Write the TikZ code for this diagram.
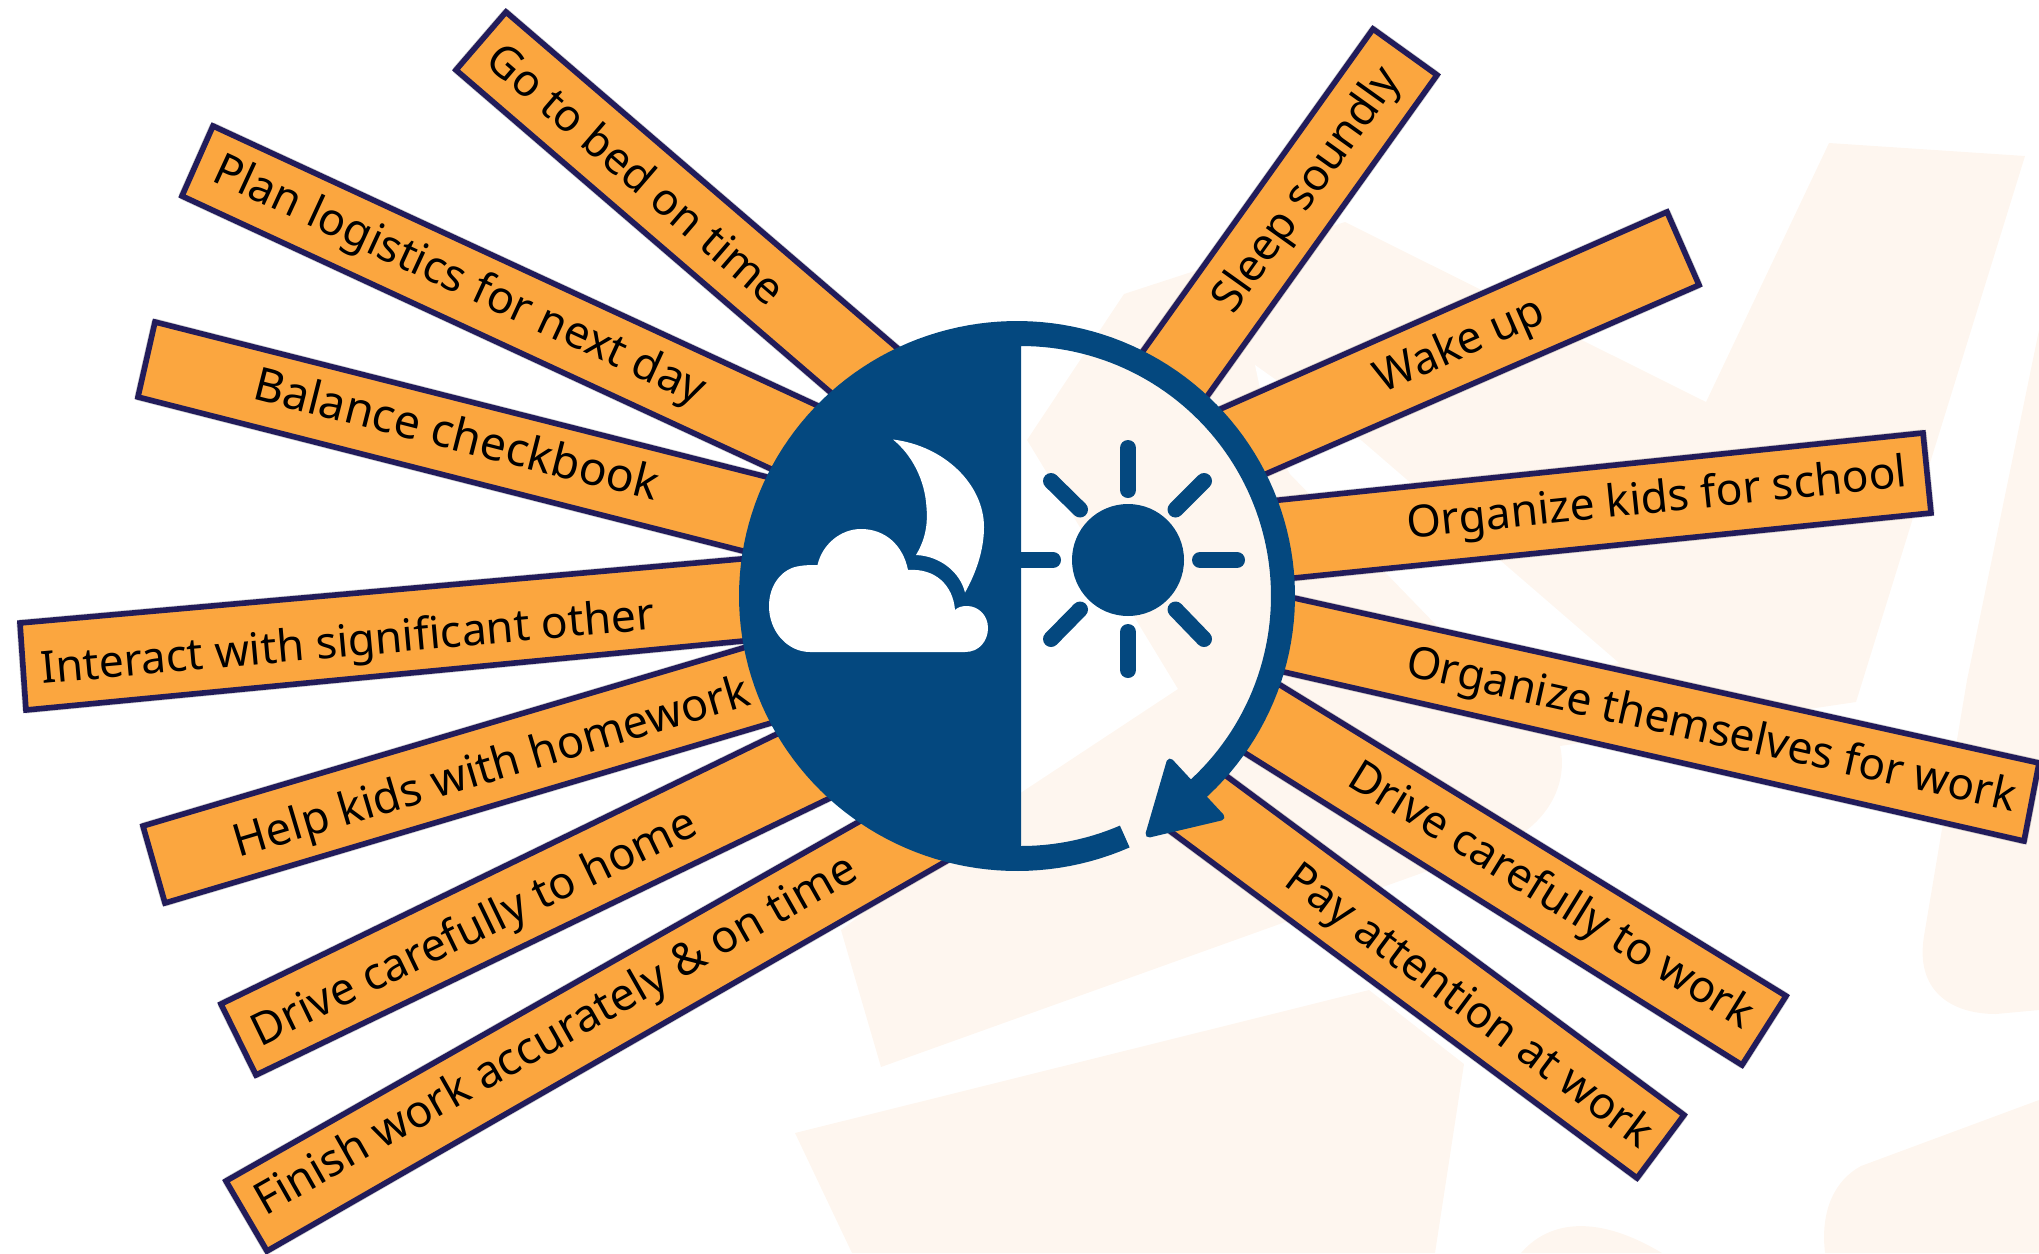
\documentclass[tikz,border=0pt]{standalone}
\usepackage{fontspec}
\setmainfont{Noto Sans}
\usetikzlibrary{calc}
\definecolor{barfill}{HTML}{FBA63F}
\definecolor{barline}{HTML}{221C5A}
\definecolor{iconblue}{HTML}{04487F}
\definecolor{wm}{HTML}{FEF6EF}
\tikzset{
  spokebar/.style={fill=barfill,draw=barline,line width=5.6pt,line join=miter},
  spokeshadow/.style={draw=black,fill=black,opacity=.18,line width=7pt,line join=round},
  spoketext/.style={inner sep=0pt,text=black,font=\fontsize{44.3}{44.3}\selectfont},
  wmark/.style={fill=wm,draw=none},
  ray/.style={draw=iconblue,line width=16pt,line cap=round},
}
\newcommand{\spoke}[9]{%
  \coordinate (#1a) at (#2);
  \coordinate (#1b) at (#3);
  \coordinate (#1c) at (#4);
  \coordinate (#1d) at (#5);
  \fill[spokeshadow,shift={(2pt,-3pt)}] (#1a) -- (#1b) -- ($(#1c)!-14pt!(#1b)$) -- ($(#1d)!-14pt!(#1a)$) -- cycle;
  \draw[spokebar] (#1a) -- (#1b) -- ($(#1c)!-14pt!(#1b)$) -- ($(#1d)!-14pt!(#1a)$) -- cycle;
  \node[spoketext,rotate=#7] (#1) at (#6) {#8#9};
}
\begin{document}
\begin{tikzpicture}[x=1pt,y=-1pt]
\useasboundingbox (0,0) rectangle (2039,1253);
% pale watermark
\fill[wmark] (1124,294) -- (1345,222) -- (1706,402) -- (1829,143) -- (2025,156) -- (1856,702)
  -- (1560,746) .. controls (1570,790) and (1540,830) .. (1500,845) -- (881,1067) -- (841,930) -- (1022,792) -- (1178,689) -- (1027,440) -- cycle;
\fill[white] (1255,365) -- (1362,441) -- (1619,663) -- (1480,690) -- (1445,634) -- (1290,474) -- (1271,440) -- cycle;
\fill[wmark] (2039,330) -- (1967,680) -- (1924,936) .. controls (1915,990) and (1950,1014) .. (1996,1014) -- (2039,1010) -- cycle;
\fill[wmark] (795,1133) -- (1369,990) -- (1464,1064) -- (1435,1253) -- (852,1253) -- cycle;
\fill[wmark] (1521,1253) .. controls (1545,1225) and (1590,1210) .. (1662,1253) -- cycle;
\fill[wmark] (1825,1253) .. controls (1820,1210) and (1835,1180) .. (1861,1166) -- (2039,1100) -- (2039,1253) -- cycle;
% bars
\spoke{bed}{506,12}{456,70}{829,391}{896,347}{637,173}{-40.7}{}{Go to bed on time}
\spoke{plan}{213,126}{182,196}{769,468}{816,405}{459,282}{-24.8}{\fontsize{44.8}{45}\selectfont}{Plan logistics for next day}
\spoke{bal}{155,322}{138,397}{743,551}{763,476}{457,433}{-14.2}{\fontsize{46.3}{46}\selectfont}{Balance checkbook}
\spoke{inter}{20,623}{26,710}{743,641}{741,559}{348,645}{5.1}{}{Interact with significant other}
\spoke{help}{143,826}{165,903}{771,723}{743,648}{492,770}{16.6}{\fontsize{45}{45}\selectfont}{Help kids with homework}
\spoke{dhome}{221,1004}{256,1075}{826,800}{775,735}{475,930}{25.9}{\fontsize{44.7}{45}\selectfont}{Drive carefully to home}
\spoke{fin}{226,1181}{267,1251}{943,863}{855,824}{557,1037}{29.6}{\fontsize{44.9}{45}\selectfont}{Finish work accurately \& on time}
\spoke{sleep}{1373,29}{1437,75}{1208,395}{1143,351}{1308,191}{54.5}{}{Sleep soundly}
\spoke{wake}{1667,212}{1699,285}{1268,473}{1225,407}{1460,347}{23.8}{}{Wake up}
\spoke{okids}{1923,433}{1931,513}{1294,578}{1280,500}{1657,501}{5.9}{}{Organize kids for school}
\spoke{othem}{2039,763}{2024,841}{1284,672}{1294,598}{1711,732}{-12.6}{}{Organize themselves for work}
\spoke{dwork}{1786,996}{1742,1065}{1245,753}{1280,685}{1550,897}{-31.7}{}{Drive carefully to work}
\spoke{pay}{1684,1115}{1637,1178}{1174,834}{1229,778}{1468,1008}{-36.6}{}{Pay attention at work}
% day-night disc
\fill[iconblue]
  plot[domain=66.1:408.5,samples=160] ({1017+278*cos(\x)},{596+275*sin(\x)})
  -- plot[domain=48.6:-90,samples=80] ({1021+250*cos(\x)},{596+250*sin(\x)})
  -- plot[domain=90:66.7,samples=20] ({1021+250*cos(\x)},{596+250*sin(\x)})
  -- cycle;
\filldraw[iconblue,line width=7pt,line join=round] (1170,762) -- (1221,817) -- (1149,834) -- cycle;
% moon
\fill[white] (893,439.5) .. controls (945,446) and (984,485) .. (984,527)
  .. controls (984,550) and (976,573) .. (965,592.5)
  .. controls (960,572) and (940,556) .. (916,555)
  .. controls (925,540) and (928,525) .. (926.5,507.5)
  .. controls (925,480) and (912,455) .. (893,439.5) -- cycle;
% cloud
\fill[white] (810,652) -- (965,652) .. controls (980,652) and (988,640) .. (988,628)
  .. controls (988,615) and (978,606) .. (967,606)
  .. controls (962,606) and (958,607) .. (955,610)
  .. controls (953,585) and (935,568) .. (908,570)
  .. controls (903,545) and (885,529) .. (861,529)
  .. controls (840,529) and (822,545) .. (817.5,565)
  .. controls (812,565) and (805,565) .. (800,566)
  .. controls (782,568) and (769,585) .. (769,606)
  .. controls (769,632) and (788,652) .. (810,652) -- cycle;
% sun
\fill[iconblue] (1128,560) circle[radius=56pt];
\draw[ray] (1128,448) -- (1128,490);
\draw[ray] (1128,632) -- (1128,670);
\draw[ray] (1200,560) -- (1237,560);
\draw[ray] (1021,560) -- (1053,560);
\draw[ray] (1175.5,509.5) -- (1204,481);
\draw[ray] (1080,509.5) -- (1051,481);
\draw[ray] (1175.5,609.5) -- (1204,639);
\draw[ray] (1080,609.5) -- (1051,639);
\end{tikzpicture}
\end{document}
